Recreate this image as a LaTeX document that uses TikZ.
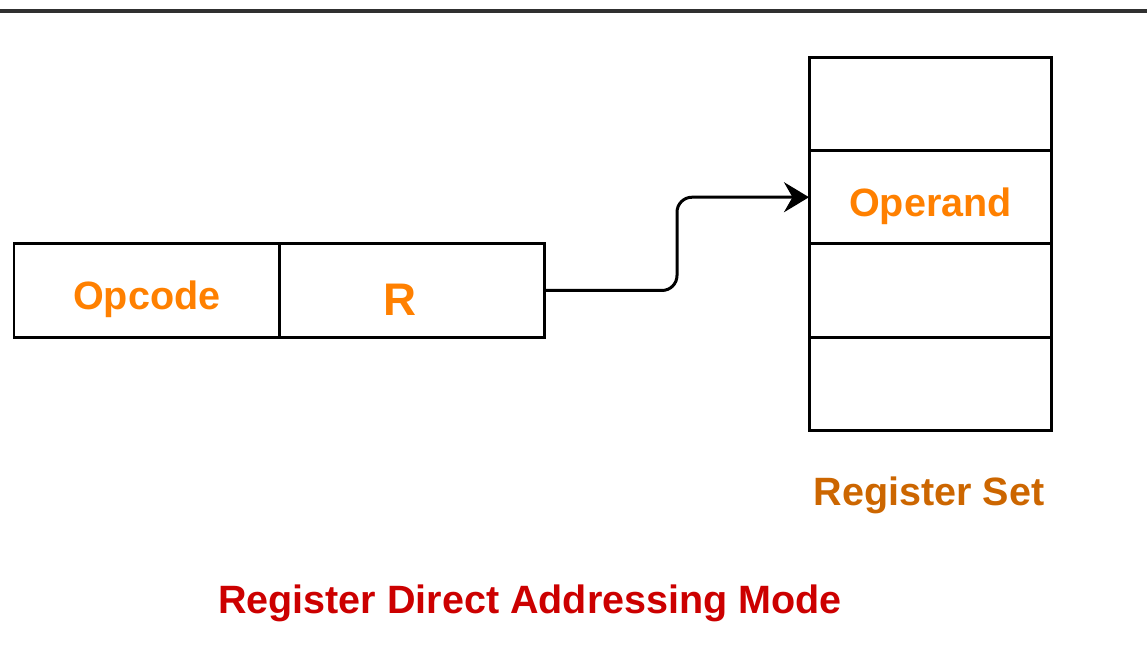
\documentclass[tikz,border=0pt]{standalone}
\usepackage{fontspec}
\setmainfont{Liberation Sans}
\usepackage{tikz}
\usetikzlibrary{positioning, arrows.meta}
\definecolor{fieldtext}{HTML}{FF8000}
\definecolor{settext}{HTML}{CC6600}
\definecolor{titletext}{HTML}{CC0000}
\definecolor{rule}{HTML}{303030}
\tikzset{
  field/.style={
    draw=black, line width=0.06cm, outer sep=0pt, inner sep=0pt,
    minimum width=5.31cm, minimum height=1.9cm,
    text height=27pt, text depth=5pt,
    font=\fontsize{22.5}{27}\selectfont\bfseries, text=fieldtext
  },
  regcell/.style={
    draw=black, line width=0.06cm, outer sep=0pt, inner sep=0pt,
    minimum width=4.86cm, minimum height=1.87cm,
    text height=27pt, text depth=5pt,
    font=\fontsize{22.5}{27}\selectfont\bfseries, text=fieldtext
  },
  caption/.style={font=\fontsize{22.5}{27}\selectfont\bfseries},
  ptr arrow/.style={
    -{Stealth[length=0.5cm, width=0.6cm, inset=0.17cm]},
    line width=0.06cm, rounded corners=0.3cm
  }
}
\begin{document}
\begin{tikzpicture}[x=0.02cm, y=-0.02cm]
  \useasboundingbox (0,0) rectangle (1147,659);
  % top rule
  \draw[rule, line width=0.08cm] (0,11) -- (1147,11);

  % instruction fields
  \node[field, anchor=north west] (opcode) at (14,243) {Opcode};
  \node[field, right=0pt of opcode, text height=28pt, text depth=0pt,
        font=\fontsize{26}{30}\selectfont\bfseries] (regR) {\kern-0.48cm R};

  % register set
  \node[regcell, anchor=north west] (cell1) at (809,57) {};
  \node[regcell, below=0pt of cell1] (cell2) {Operand};
  \node[regcell, below=0pt of cell2] (cell3) {};
  \node[regcell, below=0pt of cell3] (cell4) {};

  % labels
  \node[caption, text=settext] (setlabel) at (929,495) {Register Set};
  \node[caption, text=titletext] (title) at (530,603) {Register Direct Addressing Mode};

  % pointer
  \path (cell2.west) -- ++(-132,0) coordinate (turn);
  \draw[ptr arrow] (regR.east) -| (turn) -- (cell2.west);
\end{tikzpicture}
\end{document}
